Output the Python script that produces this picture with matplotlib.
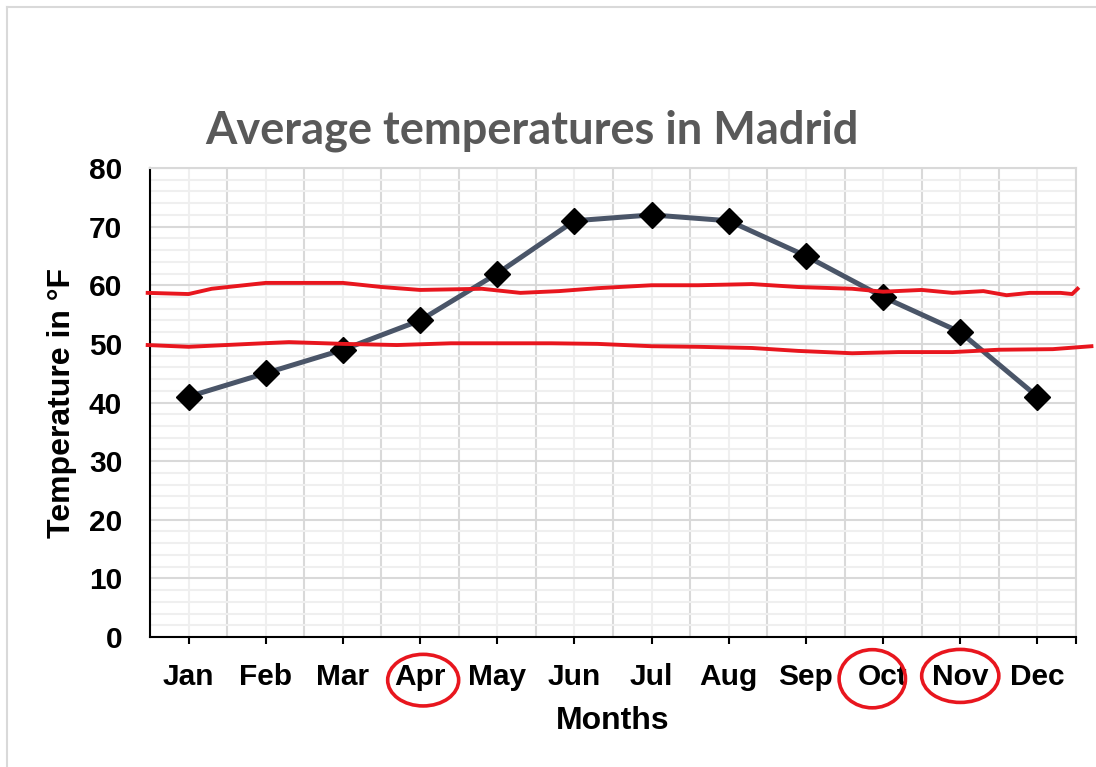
"""Average temperatures in Madrid, with hand-drawn red marks."""

import matplotlib
matplotlib.use('Agg')
import matplotlib.pyplot as plt
from matplotlib.patches import Ellipse
from matplotlib.lines import Line2D
import numpy as np

months = ['Jan', 'Feb', 'Mar', 'Apr', 'May', 'Jun',
          'Jul', 'Aug', 'Sep', 'Oct', 'Nov', 'Dec']
temps = [41, 45, 49, 54, 62, 71, 72, 71, 65, 58, 52, 41]

# hand-drawn red lines (x in month positions, y in degrees F)
upper_x = [-0.53, 0.0, 0.3, 1.0, 2.0, 2.5, 3.0, 3.8, 4.3, 4.8, 5.3, 6.0, 6.6,
           7.3, 7.9, 8.6, 9.0, 9.5, 9.9, 10.3, 10.6, 10.9, 11.3, 11.45, 11.52]
upper_y = [58.7, 58.5, 59.4, 60.4, 60.4, 59.7, 59.2, 59.4, 58.7, 59.0, 59.5,
           60.0, 60.0, 60.2, 59.7, 59.4, 58.9, 59.2, 58.7, 59.0, 58.3, 58.7,
           58.7, 58.5, 59.4]
lower_x = [-0.53, 0.0, 0.8, 1.3, 2.0, 2.7, 3.4, 4.0, 4.7, 5.3, 6.0, 6.6,
           7.3, 7.9, 8.6, 9.2, 9.9, 10.5, 11.2, 11.7]
lower_y = [49.8, 49.5, 50.0, 50.3, 50.0, 49.8, 50.1, 50.1, 50.1, 50.0, 49.6,
           49.5, 49.3, 48.8, 48.4, 48.6, 48.6, 49.0, 49.1, 49.6]

circled = ['Apr', 'Oct', 'Nov']

RED = '#e8161e'
LINE = '#4a5568'

plt.rcParams['font.family'] = ['Liberation Sans', 'DejaVu Sans']

fig = plt.figure(figsize=(10.96, 7.67), dpi=100)
ax = fig.add_axes([150/1096, 130/767, 926/1096, 469/767])

x = np.arange(len(months))
ax.plot(x, temps, c=LINE, lw=3.6, marker='D', ms=13.5, mfc='black', mec='black',
        zorder=4)
ax.plot(upper_x, upper_y, c=RED, lw=2.8, zorder=5, clip_on=False)
ax.plot(lower_x, lower_y, c=RED, lw=2.8, zorder=5, clip_on=False)

ax.set_xlim(-0.5, 11.5)
ax.set_ylim(0, 80)

# ticks and grid
ax.set_xticks(list(x) + [11.5])
ax.set_xticklabels(months + [''], fontsize=21.5, fontweight='bold')
ax.set_xticks(np.arange(-0.5, 12, 1), minor=True)
ax.set_yticks(range(0, 81, 10))
ax.set_yticklabels([str(v) for v in range(0, 81, 10)], fontsize=21.5,
                   fontweight='bold')
ax.set_yticks(range(0, 81, 2), minor=True)
ax.tick_params(axis='x', which='major', direction='out', length=5, width=1.5,
               pad=14)
ax.tick_params(axis='x', which='minor', length=0)
ax.tick_params(axis='y', which='both', length=0, pad=20)

ax.grid(axis='x', which='major', c='#efefef', lw=1.5, zorder=0)
ax.grid(axis='x', which='minor', c='#d9d9d9', lw=1.5, zorder=0)
ax.grid(axis='y', which='major', c='#d9d9d9', lw=1.5, zorder=0)
ax.grid(axis='y', which='minor', c='#efefef', lw=1.5, zorder=0)
ax.set_axisbelow(True)

for s in ['top', 'right']:
  ax.spines[s].set_color('#d9d9d9')
  ax.spines[s].set_linewidth(1.5)
for s in ['left', 'bottom']:
  ax.spines[s].set_color('black')
  ax.spines[s].set_linewidth(1.5)

ax.set_xlabel('Months', fontsize=23, fontweight='bold', va='center')
ax.xaxis.set_label_coords(0.5, -0.18)
ax.set_ylabel('Temperature in °F', fontsize=23, fontweight='bold', va='center')
ax.yaxis.set_label_coords(-0.095, 0.5)

fig.text(532/1096, (767-143)/767, 'Average temperatures in Madrid',
         fontsize=32.5, fontweight='bold', color='#595959', ha='center',
         va='baseline', family=['Lato', 'DejaVu Sans'])

# red circles around some month labels
trans = ax.get_xaxis_transform()
circle_style = {'Apr': (0.04, -0.092, 0.92, 0.110),
                'Oct': (-0.14, -0.089, 0.86, 0.124),
                'Nov': (0.0, -0.083, 1.0, 0.113)}
for m in circled:
  dx, yc, w, h = circle_style[m]
  e = Ellipse((months.index(m) + dx, yc), w, h, transform=trans, fill=False,
              ec=RED, lw=2.6, clip_on=False, zorder=6)
  ax.add_patch(e)

# slide border
fig.add_artist(Line2D([7/1096, 1], [1-7/767, 1-7/767], c='#d9d9d9', lw=1.5))
fig.add_artist(Line2D([7/1096, 7/1096], [0, 1-7/767], c='#d9d9d9', lw=1.5))

fig.savefig('out.png', dpi=100)
